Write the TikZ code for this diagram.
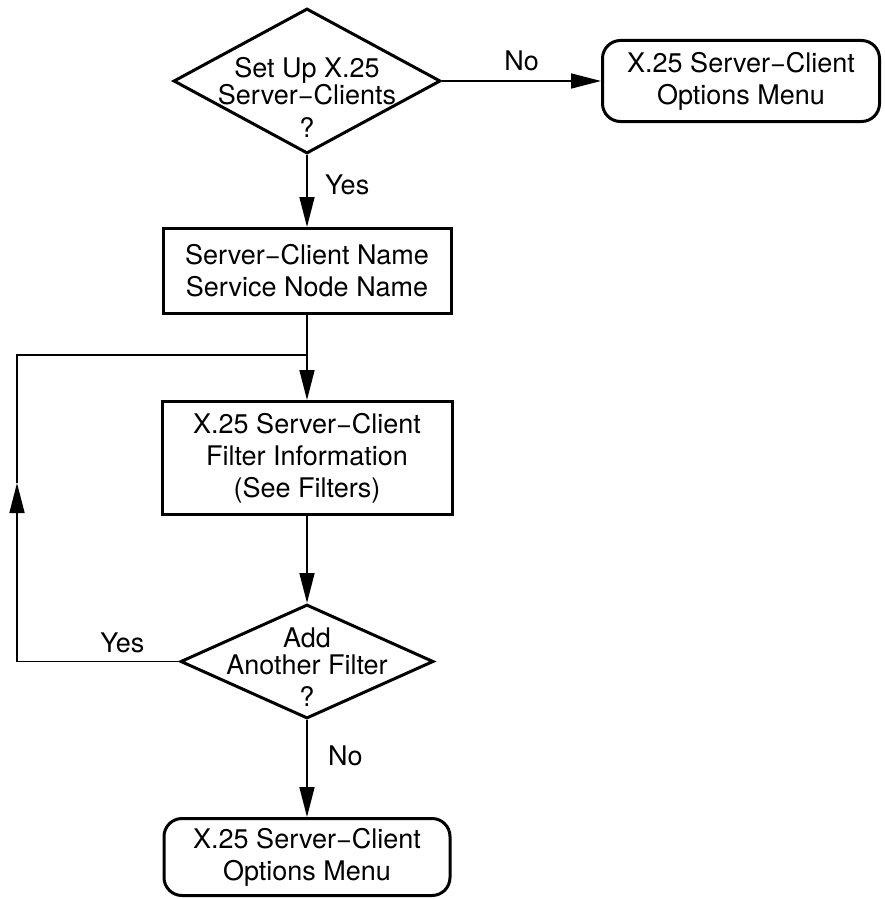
\documentclass[tikz,border=0pt]{standalone}
\usepackage{fontspec}
\setmainfont{TeX Gyre Heros}
\usetikzlibrary{shapes.geometric,positioning,arrows.meta}

\begin{document}
\begin{tikzpicture}[x=1pt, y=-1pt, line width=1.6pt,
        font=\fontsize{27}{32}\selectfont,
        box/.style={rectangle, draw, line width=3pt, align=center, inner sep=0pt},
        menu/.style={box, rounded corners=18pt},
        decision/.style={diamond, draw, line width=3pt, inner sep=0pt},
        ask/.style={align=center, font=\fontsize{27}{27}\selectfont},
        >={Triangle[length=30pt,width=15pt]}]
        \useasboundingbox (0,0) rectangle (884,899);
        % Nodes
        \node[decision, minimum width=267pt, minimum height=145pt,
              label={[ask, yshift=-16pt]center:{Set Up X.25\\Server−Clients\\[6pt]?}}] (setup) at (307,81) {};
        \node[menu, minimum width=277pt, minimum height=81pt, right=159pt of setup] (optA) {X.25 Server−Client\\Options Menu};
        \node[box, minimum width=288pt, minimum height=85pt, below=72pt of setup] (names) {Server−Client Name\\Service Node Name};
        \node[box, minimum width=290pt, minimum height=113pt, below=85pt of names] (filter) {X.25 Server−Client\\Filter Information\\(See Filters)};
        \node[decision, minimum width=253pt, minimum height=114pt, below=87pt of filter,
              label={[ask, yshift=-6pt]center:{Add\\Another Filter\\[5pt]?}}] (another) {};
        \node[menu, minimum width=286pt, minimum height=77pt, below=97pt of another] (optB) {X.25 Server−Client\\Options Menu};
        \coordinate (loop) at (17,483);
        \coordinate (join) at (307,355);
        % Edges
        \draw[->] (setup) -- node[above=6pt] {No} (optA);
        \draw[->] (setup) -- node[right=14pt, pos=.42] {Yes} (names);
        \draw[->] (names) -- (filter);
        \draw[->] (filter) -- (another);
        \draw[->] (another) -- node[right=17pt, pos=.37] {No} (optB);
        \draw[->] (another.west) -- node[above=4pt, pos=.35] {Yes} (another.west -| loop) -- (loop);
        \draw (loop) |- (join);
\end{tikzpicture}
\end{document}
